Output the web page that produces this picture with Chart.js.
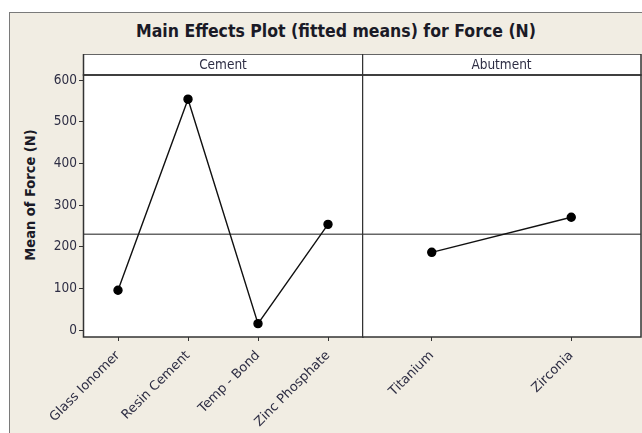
<!DOCTYPE html>
<html>
<head>
<meta charset="utf-8">
<script src="https://cdn.jsdelivr.net/npm/chart.js@4.4.0/dist/chart.umd.min.js"></script>
<style>
  body { margin: 0; background: #fff; width: 642px; height: 433px; overflow: hidden; position: relative; }
  #frame { position: absolute; left: 9px; top: 12px; width: 660px; height: 440px; background: #f1ede3; border: 1px solid #7a7a7a; }
  #title { position: absolute; left: 0; width: 672px; top: 21px; text-align: center; font: bold 17.5px "DejaVu Sans Condensed", "DejaVu Sans", sans-serif; color: #1a1a26; }
  #ylabel { position: absolute; left: 30px; top: 197px; width: 200px; margin-left: -100px; margin-top: -10px; line-height: 20px; text-align: center; transform: rotate(-90deg); font: bold 14.5px "DejaVu Sans Condensed", "DejaVu Sans", sans-serif; color: #1a1a26; }
  canvas { position: absolute; }
  #cementChart { left: 0; top: 54px; }
  #abutmentChart { left: 362px; top: 54px; }
</style>
</head>
<body>
<div id="frame"></div>
<div id="title">Main Effects Plot (fitted means) for Force (N)</div>
<div id="ylabel">Mean of Force (N)</div>
<canvas id="cementChart" width="364" height="379"></canvas>
<canvas id="abutmentChart" width="280" height="379"></canvas>
<script>
document.addEventListener('DOMContentLoaded', function() {
    // Values
    const cementLevels = ['Glass Ionomer', 'Resin Cement', 'Temp - Bond', 'Zinc Phosphate'];
    const cementMeans = [96, 554, 16, 254];
    const abutmentLevels = ['Titanium', 'Zirconia'];
    const abutmentMeans = [187, 271];
    const grandMean = 230;
    const yTicks = [0, 100, 200, 300, 400, 500, 600];

    const fontFamily = '"DejaVu Sans Condensed", "DejaVu Sans", sans-serif';
    const textColor = '#2e2e44';

    // white panel, header strip, border and grand mean reference line
    const panelPlugin = {
        id: 'panel',
        beforeDraw(chart) {
            const a = chart.chartArea;
            const ctx = chart.ctx;
            ctx.save();
            ctx.fillStyle = '#fff';
            ctx.fillRect(a.left, a.top - 21, a.right - a.left, a.bottom - a.top + 21);
            ctx.restore();
        },
        beforeDatasetsDraw(chart, args, opts) {
            const a = chart.chartArea;
            const ctx = chart.ctx;
            const y = chart.scales.y.getPixelForValue(grandMean);
            ctx.save();
            ctx.strokeStyle = '#666';
            ctx.lineWidth = 1.5;
            ctx.beginPath();
            ctx.moveTo(a.left, y);
            ctx.lineTo(a.right, y);
            ctx.stroke();
            ctx.restore();
        },
        afterDraw(chart, args, opts) {
            const a = chart.chartArea;
            const ctx = chart.ctx;
            ctx.save();
            ctx.strokeStyle = '#333';
            ctx.lineWidth = 1.5;
            ctx.strokeRect(a.left + 0.5, a.top - 21, a.right - a.left - 0.5, 21);
            ctx.strokeRect(a.left + 0.5, a.top, a.right - a.left - 0.5, a.bottom - a.top);
            ctx.fillStyle = textColor;
            ctx.font = '13.5px ' + fontFamily;
            ctx.textAlign = 'center';
            ctx.textBaseline = 'middle';
            ctx.fillText(opts.label, (a.left + a.right) / 2, a.top - 10);
            ctx.restore();
        }
    };

    function makeOptions(label, showY) {
        return {
            responsive: false,
            animation: false,
            layout: { autoPadding: false, padding: { top: 21, right: 1, left: 0, bottom: 0 } },
            plugins: {
                legend: { display: false },
                tooltip: { enabled: false },
                panel: { label: label }
            },
            scales: {
                x: {
                    offset: true,
                    grid: { drawOnChartArea: false, drawTicks: true, tickLength: 4, color: '#333' },
                    border: { display: false },
                    ticks: {
                        minRotation: 45, maxRotation: 45, autoSkip: false,
                        color: textColor, padding: 7,
                        font: { family: '"DejaVu Sans", sans-serif', size: 13 }
                    },
                    afterFit: s => { s.height = 96; s.paddingLeft = 0; s.paddingRight = 0; }
                },
                y: {
                    display: showY,
                    min: -16, max: 612,
                    afterBuildTicks: s => { s.ticks = yTicks.map(v => ({ value: v })); },
                    grid: { drawOnChartArea: false, drawTicks: true, tickLength: 4, color: '#333' },
                    border: { display: false },
                    ticks: { color: textColor, padding: 2, font: { family: fontFamily, size: 13.5 } },
                    afterFit: s => { if (showY) s.width = 83; }
                }
            }
        };
    }

    function makeData(labels, values) {
        return {
            labels: labels,
            datasets: [{
                data: values,
                borderColor: '#111',
                borderWidth: 1.4,
                pointRadius: 4,
                pointBackgroundColor: '#000',
                pointBorderColor: '#000',
                tension: 0
            }]
        };
    }

    new Chart(document.getElementById('cementChart').getContext('2d'), {
        type: 'line',
        data: makeData(cementLevels, cementMeans),
        options: makeOptions('Cement', true),
        plugins: [panelPlugin]
    });

    new Chart(document.getElementById('abutmentChart').getContext('2d'), {
        type: 'line',
        data: makeData(abutmentLevels, abutmentMeans),
        options: makeOptions('Abutment', false),
        plugins: [panelPlugin]
    });
});
</script>
</body>
</html>
